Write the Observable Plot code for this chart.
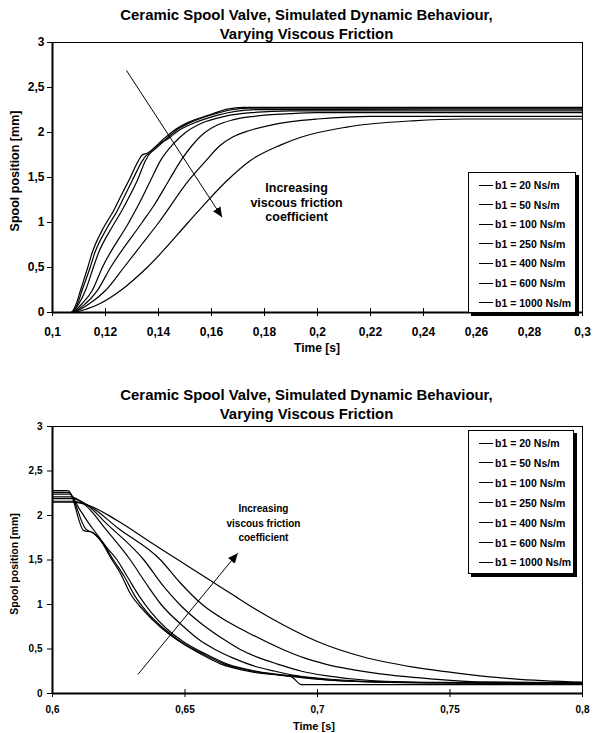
<!DOCTYPE html>
<html>
<head>
<meta charset="utf-8">
<script src="https://cdn.jsdelivr.net/npm/d3@7"></script>
<script src="https://cdn.jsdelivr.net/npm/@observablehq/plot@0.6"></script>
<style>
  html, body { margin: 0; padding: 0; background: #fff; }
  #page { position: relative; width: 597px; height: 733px; overflow: hidden; font-family: "Liberation Sans", Arial, sans-serif; font-weight: bold; color: #000; }
  .abs { position: absolute; white-space: nowrap; }
  .title { font-size: 14.9px; text-align: center; width: 597px; left: 8px; line-height: 19px; }
  .legend { position: absolute; background: #fff; border: 1px solid #000; box-shadow: 3px 3px 0 #000; box-sizing: border-box; }
  .legend .row { position: absolute; left: 10px; height: 14px; display: flex; align-items: center; }
  .legend .sw { width: 14px; height: 0; border-top: 1.2px solid #000; margin-right: 2px; }
  .chart { position: absolute; left: 0; }
</style>
</head>
<body>
<div id="page"></div>
<script>
// ---------- data ----------
const seriesNames = ["b1 = 20 Ns/m", "b1 = 50 Ns/m", "b1 = 100 Ns/m", "b1 = 250 Ns/m", "b1 = 400 Ns/m", "b1 = 600 Ns/m", "b1 = 1000 Ns/m"];

const titleLines = ["Ceramic Spool Valve, Simulated Dynamic Behaviour,", "Varying Viscous Friction"];
const xLabel = "Time [s]";
const yLabel = "Spool position [mm]";
const noteText = "Increasing\nviscous friction\ncoefficient";

const topXTicks = [0.1, 0.12, 0.14, 0.16, 0.18, 0.2, 0.22, 0.24, 0.26, 0.28, 0.3];
const topYTicks = [0, 0.5, 1, 1.5, 2, 2.5, 3];
const botXTicks = [0.6, 0.65, 0.7, 0.75, 0.8];
const botYTicks = [0, 0.5, 1, 1.5, 2, 2.5, 3];

// rising step (top chart): [time s, position mm]
const rise20 = [[0.1,0],[0.107,0],[0.109,0.1],[0.1106,0.25],[0.1133,0.5],[0.1148,0.65],[0.1194,0.95],[0.1231,1.133],[0.1259,1.3],[0.1288,1.467],[0.1325,1.69],[0.1338,1.75],[0.1357,1.77],[0.142,1.93],[0.1457,2.02],[0.151,2.11],[0.1596,2.2],[0.166,2.26],[0.172,2.28],[0.3,2.28]];
const rise50 = [[0.1,0],[0.107,0],[0.1095,0.1],[0.1112,0.25],[0.1142,0.5],[0.1158,0.65],[0.1208,0.95],[0.1245,1.133],[0.1273,1.3],[0.1301,1.467],[0.134,1.69],[0.1352,1.74],[0.1372,1.78],[0.143,1.93],[0.1465,2.02],[0.152,2.11],[0.1605,2.2],[0.167,2.25],[0.174,2.27],[0.3,2.27]];
const rise100 = [[0.1,0],[0.107,0],[0.11,0.1],[0.1125,0.25],[0.1154,0.5],[0.1172,0.65],[0.1225,0.95],[0.1262,1.133],[0.1292,1.3],[0.132,1.467],[0.1351,1.69],[0.1375,1.8],[0.144,1.94],[0.1475,2.02],[0.153,2.1],[0.162,2.19],[0.169,2.235],[0.178,2.255],[0.3,2.26]];
const rise250 = [[0.1,0],[0.107,0],[0.1112,0.1],[0.115,0.244],[0.1188,0.5],[0.1288,1.0],[0.1325,1.2],[0.137,1.467],[0.1408,1.69],[0.1455,1.87],[0.1502,2.0],[0.156,2.1],[0.165,2.18],[0.175,2.22],[0.19,2.24],[0.3,2.24]];
const rise400 = [[0.1,0],[0.107,0],[0.1125,0.1],[0.1169,0.244],[0.1219,0.5],[0.1338,1.0],[0.1385,1.2],[0.1439,1.467],[0.1485,1.69],[0.1525,1.85],[0.1575,2.0],[0.162,2.08],[0.168,2.14],[0.176,2.18],[0.19,2.21],[0.2,2.22],[0.3,2.22]];
const rise600 = [[0.1,0],[0.107,0],[0.114,0.1],[0.12,0.244],[0.1269,0.5],[0.1335,0.75],[0.1401,1.0],[0.1514,1.467],[0.158,1.69],[0.163,1.85],[0.168,1.95],[0.174,2.02],[0.182,2.08],[0.19,2.12],[0.2,2.15],[0.22,2.18],[0.3,2.18]];
const rise1000 = [[0.1,0],[0.107,0],[0.113,0.04],[0.118,0.1],[0.1257,0.244],[0.1357,0.5],[0.1512,1.0],[0.1586,1.244],[0.1659,1.467],[0.1747,1.69],[0.186,1.86],[0.194,1.95],[0.211,2.06],[0.236,2.13],[0.255,2.15],[0.3,2.15]];

// falling step (bottom chart): [time s, position mm]
const fall20 = [[0.6,2.28],[0.6055,2.28],[0.6062,2.275],[0.6118,1.83],[0.615,1.81],[0.6181,1.72],[0.6219,1.53],[0.6257,1.345],[0.6294,1.12],[0.6345,0.93],[0.6408,0.745],[0.6471,0.6],[0.6558,0.446],[0.6634,0.333],[0.6747,0.245],[0.6873,0.2],[0.69,0.19],[0.694,0.1],[0.8,0.1]];
const fall50 = [[0.6,2.26],[0.606,2.26],[0.6125,1.85],[0.6155,1.8],[0.619,1.69],[0.623,1.5],[0.627,1.32],[0.631,1.1],[0.6355,0.92],[0.642,0.73],[0.648,0.59],[0.657,0.44],[0.665,0.33],[0.676,0.25],[0.688,0.2],[0.7,0.16],[0.72,0.13],[0.75,0.12],[0.8,0.115]];
const fall100 = [[0.6,2.24],[0.6065,2.24],[0.61,2.08],[0.6135,1.92],[0.617,1.78],[0.6205,1.64],[0.6244,1.5],[0.6285,1.3],[0.6326,1.1],[0.637,0.92],[0.643,0.73],[0.649,0.59],[0.658,0.44],[0.666,0.33],[0.677,0.25],[0.69,0.2],[0.705,0.16],[0.725,0.13],[0.76,0.12],[0.8,0.12]];
const fall250 = [[0.6,2.21],[0.607,2.21],[0.613,2.1],[0.62,1.85],[0.6294,1.5],[0.635,1.25],[0.641,1.0],[0.6495,0.75],[0.6555,0.6],[0.661,0.5],[0.668,0.4],[0.677,0.3],[0.684,0.25],[0.692,0.2],[0.7,0.165],[0.715,0.135],[0.74,0.12],[0.8,0.115]];
const fall400 = [[0.6,2.19],[0.6075,2.19],[0.613,2.12],[0.62,1.92],[0.6345,1.5],[0.642,1.2],[0.648,1.0],[0.6555,0.8],[0.665,0.6],[0.6705,0.5],[0.678,0.4],[0.685,0.33],[0.694,0.25],[0.703,0.2],[0.72,0.146],[0.745,0.125],[0.8,0.12]];
const fall600 = [[0.6,2.16],[0.608,2.16],[0.613,2.12],[0.625,1.85],[0.6408,1.5],[0.648,1.25],[0.6565,1.0],[0.6665,0.8],[0.676,0.65],[0.6865,0.5],[0.695,0.4],[0.703,0.33],[0.7238,0.22],[0.7426,0.165],[0.761,0.13],[0.8,0.12]];
const fall1000 = [[0.6,2.15],[0.608,2.15],[0.613,2.12],[0.6244,1.944],[0.637,1.7],[0.6475,1.5],[0.6596,1.27],[0.6685,1.1],[0.6765,0.95],[0.6875,0.764],[0.6995,0.59],[0.7174,0.41],[0.7363,0.296],[0.755,0.221],[0.774,0.165],[0.8,0.127]];

// annotations in data units
const topArrow = [{x1: 0.1279, y1: 2.69, x2: 0.164, y2: 1.059}];
const botArrow = [{x1: 0.6322, y1: 0.213, x2: 0.6699, y2: 1.577}];
const topNote = [{x: 0.1921, y: 1.228, text: noteText}];
const botNote = [{x: 0.6796, y: 1.927, text: noteText}];

// ---------- build ----------
const toRows = (lists) => lists.flatMap((pts, i) => pts.map(([t, y]) => ({series: seriesNames[i], t, y})));
const topData = toRows([rise20, rise50, rise100, rise250, rise400, rise600, rise1000]);
const botData = toRows([fall20, fall50, fall100, fall250, fall400, fall600, fall1000]);
const fmt = d => String(d).replace(".", ",");

function fillArrowMarkers(svg) {
  svg.querySelectorAll("marker").forEach(m => {
    m.setAttribute("viewBox", "-10 -4.5 10.5 9");
    m.setAttribute("markerWidth", "10.5");
    m.setAttribute("markerHeight", "9");
    m.setAttribute("fill", "#000");
    m.setAttribute("stroke", "none");
    m.querySelectorAll("path").forEach(p => p.setAttribute("d", "M-10,-4.5L0,0L-10,4.5Z"));
  });
}

function makeChart(cfg) {
  const svg = Plot.plot({
    width: 597,
    height: cfg.height,
    marginTop: 2,
    marginLeft: 52,
    marginRight: 15,
    marginBottom: cfg.marginBottom,
    x: {domain: cfg.xDomain},
    y: {domain: [0, 3]},
    style: {fontFamily: "'Liberation Sans', Arial, sans-serif", fontWeight: "bold", fontSize: cfg.tickFont + "px", color: "#000", background: "transparent", overflow: "visible"},
    marks: [
      Plot.frame({stroke: "#000", strokeWidth: 1}),
      Plot.axisX({ticks: cfg.xTicks, tickSize: 8, dy: -4, tickFormat: () => "", label: null}),
      Plot.axisX({ticks: cfg.xTicks, tickSize: 0, tickPadding: cfg.xPad, tickFormat: fmt, label: null, fontSize: cfg.tickFont}),
      Plot.axisY({ticks: cfg.yTicks, tickSize: 5, tickPadding: cfg.yPad, tickFormat: fmt, label: null, fontSize: cfg.tickFont}),
      Plot.line(cfg.data, {x: "t", y: "y", z: "series", stroke: "#000", strokeWidth: 1.2, curve: "monotone-x"}),
      Plot.ruleY([0], {stroke: "#000", strokeWidth: 2}),
      Plot.ruleX([cfg.xDomain[0]], {stroke: "#000", strokeWidth: 2}),
      Plot.link(cfg.arrow, {x1: "x1", y1: "y1", x2: "x2", y2: "y2", stroke: "#000", strokeWidth: 1, markerEnd: "arrow"}),
      Plot.text(cfg.note, {x: "x", y: "y", text: "text", fontSize: cfg.noteFont, lineHeight: cfg.noteLH, textAnchor: "middle", fill: "#000"})
    ]
  });
  fillArrowMarkers(svg);
  return svg;
}

const page = document.getElementById("page");

function addDiv(cls, text, style) {
  const d = document.createElement("div");
  d.className = "abs " + cls;
  d.textContent = text;
  Object.assign(d.style, style);
  page.appendChild(d);
  return d;
}

function addLegend(left, top, width, height, rowTop, rowStep, fontSize) {
  const lg = document.createElement("div");
  lg.className = "legend";
  Object.assign(lg.style, {left: left + "px", top: top + "px", width: width + "px", height: height + "px"});
  seriesNames.forEach((name, i) => {
    const r = document.createElement("div");
    r.className = "row";
    r.style.top = (rowTop + i * rowStep - 7) + "px";
    r.style.fontSize = fontSize + "px";
    const sw = document.createElement("span");
    sw.className = "sw";
    const tx = document.createElement("span");
    tx.textContent = name;
    r.appendChild(sw); r.appendChild(tx);
    lg.appendChild(r);
  });
  page.appendChild(lg);
}

// ----- top chart -----
addDiv("title", titleLines[0], {top: "6px"});
addDiv("title", titleLines[1], {top: "25px"});
const top1 = makeChart({height: 320, marginBottom: 48, xDomain: [0.1, 0.3], xTicks: topXTicks, yTicks: topYTicks, data: topData, arrow: topArrow, note: topNote, tickFont: 12, xPad: 15, yPad: 3, noteFont: 12.5, noteLH: 1.16});
top1.classList.add("chart");
top1.style.top = "40px";
page.appendChild(top1);
addDiv("", xLabel, {left: "317px", top: "348px", fontSize: "12px", transform: "translate(-50%,-50%)"});
addDiv("", yLabel, {left: "15px", top: "171px", fontSize: "12.5px", transform: "translate(-50%,-50%) rotate(-90deg)"});
addLegend(468, 172, 108, 141, 12, 19.6, 10.5);

// ----- bottom chart -----
addDiv("title", titleLines[0], {top: "386px"});
addDiv("title", titleLines[1], {top: "405px"});
const bot1 = makeChart({height: 309, marginBottom: 40, xDomain: [0.6, 0.8], xTicks: botXTicks, yTicks: botYTicks, data: botData, arrow: botArrow, note: botNote, tickFont: 10, xPad: 12, yPad: 5, noteFont: 10, noteLH: 1.45});
bot1.classList.add("chart");
bot1.style.top = "424px";
page.appendChild(bot1);
addDiv("", xLabel, {left: "314px", top: "726px", fontSize: "11px", transform: "translate(-50%,-50%)"});
addDiv("", yLabel, {left: "13.5px", top: "564px", fontSize: "10.5px", transform: "translate(-50%,-50%) rotate(-90deg)"});
addLegend(468, 430, 106, 144, 12, 19.9, 10.5);
</script>
</body>
</html>
